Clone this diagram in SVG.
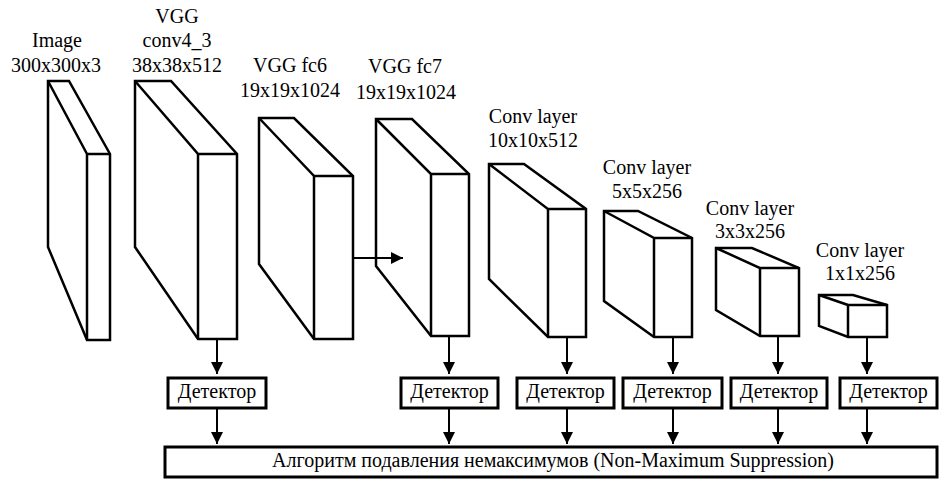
<svg xmlns="http://www.w3.org/2000/svg" width="945" height="484" viewBox="0 0 945 484">
<defs>
<marker id="ah" markerUnits="userSpaceOnUse" markerWidth="13" markerHeight="12" refX="12" refY="6" orient="auto">
<path d="M0,0 L12,6 L0,12 Z" fill="#000"/>
</marker>
<style>
.cube{fill:#fff;stroke:#000;stroke-width:2.5;stroke-linejoin:miter}
.edge{fill:none;stroke:#000;stroke-width:2.5}
.det{fill:#fff;stroke:#000;stroke-width:3}
.con{fill:none;stroke:#000;stroke-width:2;marker-end:url(#ah)}
</style>
</defs>
<rect width="945" height="484" fill="#fff"/>
<g font-family="Liberation Serif, Times New Roman, DejaVu Serif, serif" font-size="20" text-anchor="middle" fill="#000">

<g id="image">
<path class="cube" d="M48,81 L69,81 L110,154 L110,340 L87,340 L48,247 Z"/>
<path class="edge" d="M48,81 L87,154 L87,340 M87,154 L110,154"/>
<text x="57" y="47">Image</text>
<text x="56" y="72">300x300x3</text>
</g>

<g id="conv4_3">
<path class="cube" d="M135,81 L171,81 L237,154 L237,339 L198,339 L135,247 Z"/>
<path class="edge" d="M135,81 L198,154 L198,339 M198,154 L237,154"/>
<text x="177" y="23">VGG</text>
<text x="177" y="47">conv4_3</text>
<text x="177" y="72">38x38x512</text>
</g>

<g id="fc6">
<path class="cube" d="M259,118 L294,118 L353,176 L353,339 L314,339 L259,264 Z"/>
<path class="edge" d="M259,118 L314,176 L314,339 M314,176 L353,176"/>
<text x="290" y="72">VGG fc6</text>
<text x="290" y="97">19x19x1024</text>
</g>

<g id="fc7">
<path class="cube" d="M376,119 L412,119 L469,174 L469,336 L431,336 L376,266 Z"/>
<path class="edge" d="M376,119 L431,174 L431,336 M431,174 L469,174"/>
<text x="405" y="73">VGG fc7</text>
<text x="406" y="99">19x19x1024</text>
</g>

<g id="conv10">
<path class="cube" d="M489,164 L524,164 L586,209 L586,337 L548,337 L489,279 Z"/>
<path class="edge" d="M489,164 L548,209 L548,337 M548,209 L586,209"/>
<text x="533" y="123">Conv layer</text>
<text x="533" y="147">10x10x512</text>
</g>

<g id="conv5">
<path class="cube" d="M604,211 L638,211 L692,238 L692,337 L654,337 L604,301 Z"/>
<path class="edge" d="M604,211 L654,238 L654,337 M654,238 L692,238"/>
<text x="647" y="174">Conv layer</text>
<text x="647" y="198">5x5x256</text>
</g>

<g id="conv3">
<path class="cube" d="M716,248 L752,248 L799,268 L799,336 L760,336 L716,310 Z"/>
<path class="edge" d="M716,248 L760,268 L760,336 M760,268 L799,268"/>
<text x="750" y="215">Conv layer</text>
<text x="750" y="238">3x3x256</text>
</g>

<g id="conv1">
<path class="cube" d="M819,295 L853,295 L887,305 L887,337 L848,337 L819,326 Z"/>
<path class="edge" d="M819,295 L848,305 L848,337 M848,305 L887,305"/>
<text x="860" y="257">Conv layer</text>
<text x="860" y="280">1x1x256</text>
</g>

<g id="det1"><rect class="det" x="168" y="378" width="98" height="30"/><text x="217" y="398">Детектор</text></g>
<g id="det2"><rect class="det" x="401" y="378" width="97" height="30"/><text x="449.5" y="398">Детектор</text></g>
<g id="det3"><rect class="det" x="517" y="378" width="97" height="30"/><text x="565.5" y="398">Детектор</text></g>
<g id="det4"><rect class="det" x="623" y="378" width="99" height="30"/><text x="672.5" y="398">Детектор</text></g>
<g id="det5"><rect class="det" x="731" y="378" width="96" height="30"/><text x="779" y="398">Детектор</text></g>
<g id="det6"><rect class="det" x="840" y="378" width="97" height="30"/><text x="888.5" y="398">Детектор</text></g>

<g id="nms">
<rect class="det" x="165" y="447" width="772" height="30"/>
<text x="553" y="467">Алгоритм подавления немаксимумов (Non-Maximum Suppression)</text>
</g>
</g>

<g id="connectors">
<line class="con" x1="353" y1="258" x2="403" y2="258"/>
<line class="con" x1="217" y1="339" x2="217" y2="374"/>
<line class="con" x1="449" y1="336" x2="449" y2="374"/>
<line class="con" x1="567" y1="337" x2="567" y2="374"/>
<line class="con" x1="673" y1="337" x2="673" y2="374"/>
<line class="con" x1="778" y1="336" x2="778" y2="374"/>
<line class="con" x1="867" y1="337" x2="867" y2="374"/>
<line class="con" x1="217" y1="409" x2="217" y2="444"/>
<line class="con" x1="449" y1="409" x2="449" y2="444"/>
<line class="con" x1="567" y1="409" x2="567" y2="444"/>
<line class="con" x1="673" y1="409" x2="673" y2="444"/>
<line class="con" x1="778" y1="409" x2="778" y2="444"/>
<line class="con" x1="867" y1="409" x2="867" y2="444"/>
</g>
</svg>
